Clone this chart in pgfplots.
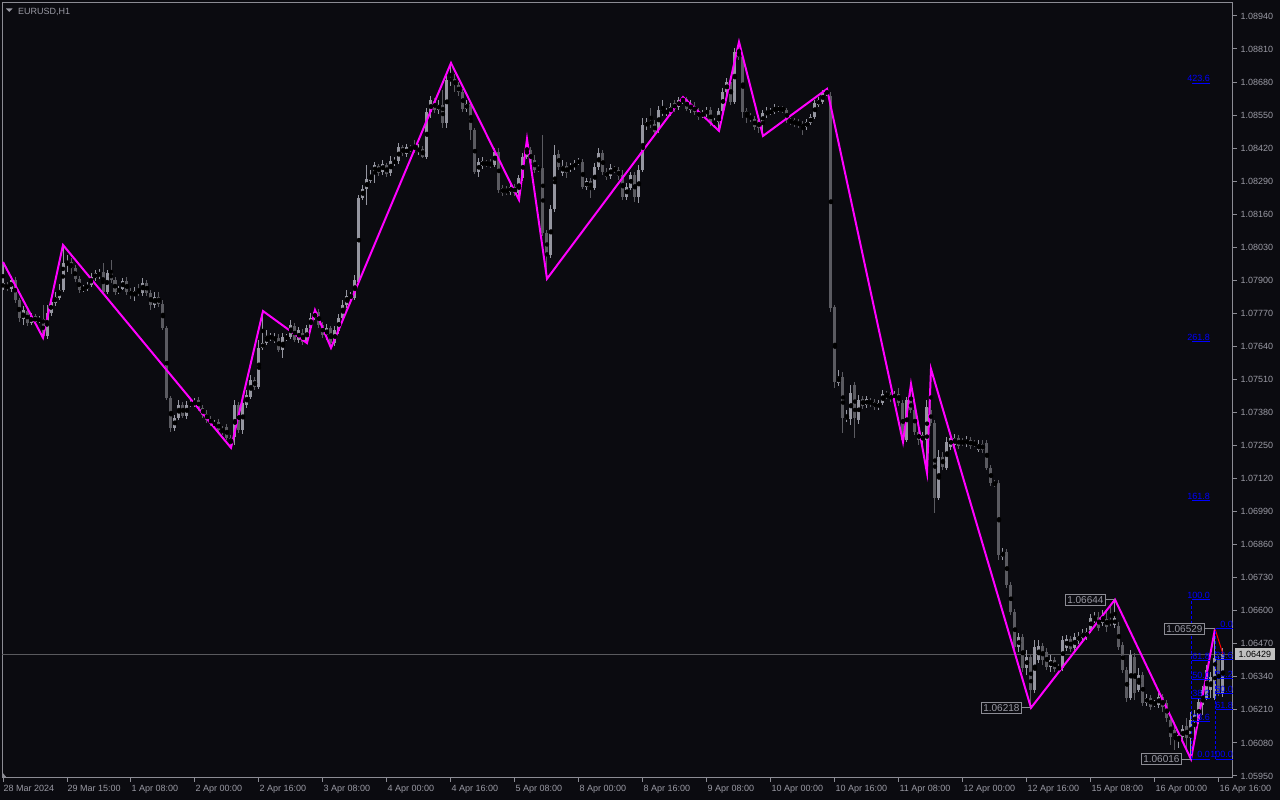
\documentclass[border=0pt]{standalone}
\usepackage{fontspec}
\setmainfont{Liberation Sans}
\usepackage{pgfplots}
\usepackage{pgfplotstable}
\pgfplotsset{compat=1.18}

\definecolor{chartbg}{HTML}{0B0B10}
\definecolor{framegray}{HTML}{8C8C94}
\definecolor{labelgray}{HTML}{9A9AA4}
\definecolor{bullgray}{HTML}{9596A0}
\definecolor{beargray}{HTML}{5B5B61}
\definecolor{zigzag}{HTML}{FF00FF}
\definecolor{fibblue}{HTML}{0000FF}
\definecolor{bidgray}{HTML}{5A5A5E}
\definecolor{bidfill}{HTML}{C0C0C0}

\newcommand{\tickfont}{\fontsize{9}{10}\selectfont}
\newcommand{\boxfont}{\fontsize{10}{11}\selectfont}

% EURUSD H1 bars: index, open, high, low, close
\pgfplotstableread{
i o h l c
0 1.07873 1.07972 1.07862 1.07889
1 1.07881 1.07893 1.07858 1.07870
2 1.07866 1.07917 1.07854 1.07901
3 1.07901 1.07913 1.07811 1.07823
4 1.07823 1.07831 1.07736 1.07752
5 1.07748 1.07799 1.07724 1.07783
6 1.07779 1.07792 1.07720 1.07732
7 1.07732 1.07771 1.07724 1.07759
8 1.07759 1.07767 1.07728 1.07736
9 1.07740 1.07759 1.07732 1.07748
10 1.07748 1.07803 1.07674 1.07681
11 1.07681 1.07803 1.07670 1.07771
12 1.07771 1.07831 1.07759 1.07815
13 1.07811 1.07854 1.07799 1.07834
14 1.07831 1.07885 1.07823 1.07862
15 1.07862 1.08039 1.07854 1.07968
16 1.07968 1.07999 1.07933 1.07972
17 1.07972 1.07988 1.07925 1.07949
18 1.07949 1.07960 1.07893 1.07906
19 1.07906 1.07917 1.07850 1.07862
20 1.07866 1.07881 1.07854 1.07870
21 1.07866 1.07893 1.07858 1.07881
22 1.07881 1.07929 1.07873 1.07913
23 1.07909 1.07941 1.07897 1.07929
24 1.07917 1.07945 1.07906 1.07929
25 1.07933 1.07968 1.07842 1.07854
26 1.07854 1.07941 1.07846 1.07929
27 1.07933 1.07980 1.07889 1.07901
28 1.07901 1.07913 1.07842 1.07854
29 1.07854 1.07877 1.07846 1.07866
30 1.07866 1.07909 1.07862 1.07897
31 1.07897 1.07913 1.07842 1.07854
32 1.07858 1.07870 1.07827 1.07846
33 1.07842 1.07873 1.07819 1.07858
34 1.07862 1.07885 1.07838 1.07850
35 1.07850 1.07909 1.07838 1.07889
36 1.07889 1.07901 1.07838 1.07850
37 1.07850 1.07862 1.07783 1.07803
38 1.07803 1.07854 1.07792 1.07834
39 1.07834 1.07854 1.07795 1.07807
40 1.07807 1.07823 1.07705 1.07713
41 1.07713 1.07720 1.07429 1.07438
42 1.07438 1.07445 1.07303 1.07320
43 1.07320 1.07370 1.07307 1.07359
44 1.07359 1.07429 1.07351 1.07409
45 1.07409 1.07421 1.07359 1.07366
46 1.07366 1.07425 1.07355 1.07409
47 1.07409 1.07429 1.07401 1.07417
48 1.07413 1.07438 1.07405 1.07421
49 1.07429 1.07441 1.07386 1.07398
50 1.07398 1.07409 1.07359 1.07370
51 1.07374 1.07390 1.07339 1.07351
52 1.07351 1.07366 1.07327 1.07343
53 1.07331 1.07351 1.07320 1.07339
54 1.07343 1.07355 1.07299 1.07311
55 1.07311 1.07327 1.07291 1.07307
56 1.07323 1.07335 1.07272 1.07280
57 1.07280 1.07291 1.07241 1.07260
58 1.07284 1.07429 1.07252 1.07409
59 1.07409 1.07421 1.07299 1.07311
60 1.07311 1.07429 1.07295 1.07417
61 1.07409 1.07469 1.07398 1.07449
62 1.07441 1.07527 1.07434 1.07508
63 1.07508 1.07520 1.07469 1.07480
64 1.07480 1.07665 1.07473 1.07634
65 1.07634 1.07779 1.07626 1.07653
66 1.07653 1.07705 1.07645 1.07681
67 1.07674 1.07693 1.07661 1.07677
68 1.07661 1.07693 1.07653 1.07677
69 1.07674 1.07689 1.07618 1.07626
70 1.07626 1.07693 1.07594 1.07677
71 1.07674 1.07689 1.07661 1.07677
72 1.07677 1.07744 1.07670 1.07724
73 1.07720 1.07732 1.07657 1.07665
74 1.07665 1.07716 1.07653 1.07705
75 1.07693 1.07709 1.07645 1.07657
76 1.07657 1.07724 1.07653 1.07713
77 1.07713 1.07771 1.07705 1.07752
78 1.07752 1.07783 1.07744 1.07775
79 1.07775 1.07787 1.07713 1.07724
80 1.07724 1.07736 1.07674 1.07685
81 1.07685 1.07728 1.07665 1.07713
82 1.07713 1.07720 1.07634 1.07653
83 1.07653 1.07720 1.07642 1.07705
84 1.07701 1.07767 1.07689 1.07752
85 1.07752 1.07823 1.07744 1.07803
86 1.07803 1.07862 1.07792 1.07838
87 1.07834 1.07854 1.07823 1.07838
88 1.07831 1.07921 1.07823 1.07901
89 1.07893 1.08236 1.07881 1.08224
90 1.08224 1.08275 1.08216 1.08259
91 1.08259 1.08354 1.08196 1.08299
92 1.08291 1.08334 1.08283 1.08315
93 1.08326 1.08365 1.08283 1.08354
94 1.08350 1.08358 1.08311 1.08322
95 1.08326 1.08373 1.08315 1.08358
96 1.08354 1.08361 1.08307 1.08318
97 1.08322 1.08389 1.08311 1.08369
98 1.08361 1.08385 1.08350 1.08373
99 1.08369 1.08440 1.08358 1.08424
100 1.08424 1.08432 1.08389 1.08401
101 1.08397 1.08436 1.08385 1.08424
102 1.08420 1.08432 1.08405 1.08417
103 1.08432 1.08452 1.08401 1.08413
104 1.08405 1.08436 1.08393 1.08420
105 1.08417 1.08428 1.08381 1.08385
106 1.08385 1.08578 1.08377 1.08562
107 1.08562 1.08625 1.08539 1.08610
108 1.08606 1.08618 1.08558 1.08570
109 1.08570 1.08610 1.08554 1.08590
110 1.08590 1.08649 1.08500 1.08519
111 1.08519 1.08704 1.08500 1.08688
112 1.08688 1.08755 1.08664 1.08692
113 1.08692 1.08712 1.08641 1.08668
114 1.08668 1.08680 1.08625 1.08641
115 1.08641 1.08653 1.08562 1.08574
116 1.08574 1.08610 1.08562 1.08594
117 1.08594 1.08602 1.08452 1.08492
118 1.08492 1.08500 1.08318 1.08326
119 1.08326 1.08381 1.08307 1.08365
120 1.08350 1.08385 1.08338 1.08369
121 1.08361 1.08373 1.08346 1.08358
122 1.08358 1.08377 1.08342 1.08354
123 1.08354 1.08420 1.08346 1.08405
124 1.08405 1.08420 1.08244 1.08255
125 1.08263 1.08275 1.08232 1.08244
126 1.08259 1.08271 1.08236 1.08244
127 1.08247 1.08283 1.08236 1.08267
128 1.08267 1.08279 1.08232 1.08244
129 1.08244 1.08315 1.08216 1.08303
130 1.08303 1.08401 1.08291 1.08385
131 1.08385 1.08456 1.08377 1.08424
132 1.08413 1.08424 1.08354 1.08361
133 1.08373 1.08393 1.08322 1.08334
134 1.08342 1.08354 1.08326 1.08338
135 1.08342 1.08472 1.08074 1.08086
136 1.08086 1.08098 1.07906 1.07999
137 1.07999 1.08196 1.07988 1.08181
138 1.08181 1.08432 1.08169 1.08393
139 1.08397 1.08413 1.08334 1.08346
140 1.08322 1.08373 1.08311 1.08350
141 1.08350 1.08365 1.08303 1.08322
142 1.08338 1.08361 1.08326 1.08350
143 1.08346 1.08373 1.08334 1.08361
144 1.08365 1.08381 1.08354 1.08369
145 1.08365 1.08377 1.08259 1.08267
146 1.08267 1.08303 1.08255 1.08291
147 1.08291 1.08303 1.08224 1.08263
148 1.08263 1.08361 1.08255 1.08346
149 1.08346 1.08420 1.08334 1.08401
150 1.08401 1.08413 1.08315 1.08326
151 1.08326 1.08342 1.08295 1.08307
152 1.08311 1.08358 1.08299 1.08342
153 1.08338 1.08350 1.08322 1.08334
154 1.08334 1.08346 1.08295 1.08311
155 1.08315 1.08334 1.08216 1.08228
156 1.08228 1.08283 1.08216 1.08267
157 1.08263 1.08326 1.08255 1.08315
158 1.08315 1.08326 1.08208 1.08228
159 1.08228 1.08354 1.08204 1.08334
160 1.08334 1.08539 1.08326 1.08511
161 1.08507 1.08539 1.08492 1.08523
162 1.08527 1.08578 1.08500 1.08515
163 1.08515 1.08531 1.08472 1.08484
164 1.08492 1.08586 1.08480 1.08570
165 1.08558 1.08610 1.08547 1.08570
166 1.08562 1.08578 1.08547 1.08566
167 1.08558 1.08598 1.08547 1.08582
168 1.08598 1.08610 1.08562 1.08574
169 1.08582 1.08621 1.08570 1.08610
170 1.08606 1.08621 1.08594 1.08618
171 1.08614 1.08621 1.08566 1.08574
172 1.08570 1.08610 1.08558 1.08590
173 1.08586 1.08602 1.08551 1.08562
174 1.08562 1.08578 1.08531 1.08543
175 1.08551 1.08570 1.08539 1.08554
176 1.08554 1.08582 1.08543 1.08570
177 1.08570 1.08582 1.08507 1.08519
178 1.08519 1.08539 1.08503 1.08523
179 1.08523 1.08578 1.08488 1.08566
180 1.08566 1.08657 1.08554 1.08641
181 1.08641 1.08696 1.08629 1.08680
182 1.08680 1.08696 1.08590 1.08602
183 1.08602 1.08814 1.08594 1.08798
184 1.08798 1.08838 1.08767 1.08779
185 1.08779 1.08787 1.08539 1.08562
186 1.08566 1.08578 1.08519 1.08547
187 1.08547 1.08558 1.08523 1.08535
188 1.08535 1.08547 1.08492 1.08503
189 1.08531 1.08543 1.08480 1.08500
190 1.08519 1.08570 1.08468 1.08558
191 1.08551 1.08582 1.08539 1.08566
192 1.08558 1.08578 1.08551 1.08566
193 1.08562 1.08594 1.08554 1.08578
194 1.08570 1.08586 1.08562 1.08578
195 1.08578 1.08586 1.08558 1.08570
196 1.08570 1.08578 1.08519 1.08531
197 1.08531 1.08539 1.08511 1.08523
198 1.08531 1.08539 1.08503 1.08515
199 1.08523 1.08535 1.08500 1.08511
200 1.08515 1.08527 1.08472 1.08503
201 1.08503 1.08535 1.08492 1.08523
202 1.08519 1.08554 1.08511 1.08543
203 1.08543 1.08610 1.08535 1.08598
204 1.08590 1.08621 1.08582 1.08610
205 1.08602 1.08649 1.08594 1.08637
206 1.08637 1.08653 1.08625 1.08645
207 1.08629 1.08641 1.07775 1.07795
208 1.07795 1.07803 1.07477 1.07500
209 1.07496 1.07547 1.07484 1.07520
210 1.07520 1.07539 1.07299 1.07359
211 1.07359 1.07390 1.07343 1.07362
212 1.07355 1.07488 1.07331 1.07457
213 1.07488 1.07500 1.07280 1.07359
214 1.07351 1.07449 1.07335 1.07429
215 1.07434 1.07445 1.07394 1.07405
216 1.07409 1.07445 1.07398 1.07434
217 1.07421 1.07438 1.07405 1.07417
218 1.07421 1.07434 1.07390 1.07401
219 1.07401 1.07429 1.07390 1.07417
220 1.07417 1.07469 1.07409 1.07453
221 1.07449 1.07465 1.07434 1.07445
222 1.07449 1.07461 1.07421 1.07434
223 1.07438 1.07465 1.07425 1.07453
224 1.07453 1.07477 1.07405 1.07417
225 1.07417 1.07429 1.07264 1.07272
226 1.07272 1.07441 1.07264 1.07429
227 1.07429 1.07492 1.07378 1.07390
228 1.07390 1.07401 1.07291 1.07303
229 1.07303 1.07320 1.07252 1.07272
230 1.07272 1.07303 1.07256 1.07291
231 1.07272 1.07429 1.07142 1.07401
232 1.07390 1.07551 1.07327 1.07339
233 1.07339 1.07351 1.06985 1.07044
234 1.07044 1.07233 1.07036 1.07205
235 1.07205 1.07225 1.07154 1.07166
236 1.07162 1.07284 1.07154 1.07264
237 1.07245 1.07295 1.07233 1.07280
238 1.07252 1.07295 1.07245 1.07280
239 1.07280 1.07291 1.07237 1.07248
240 1.07264 1.07280 1.07248 1.07260
241 1.07256 1.07288 1.07245 1.07272
242 1.07272 1.07284 1.07237 1.07248
243 1.07260 1.07272 1.07245 1.07256
244 1.07233 1.07272 1.07225 1.07256
245 1.07256 1.07272 1.07221 1.07233
246 1.07260 1.07272 1.07154 1.07162
247 1.07162 1.07174 1.07091 1.07103
248 1.07103 1.07115 1.07087 1.07099
249 1.07103 1.07115 1.06800 1.06819
250 1.06811 1.06848 1.06800 1.06831
251 1.06831 1.06844 1.06690 1.06701
252 1.06701 1.06713 1.06583 1.06595
253 1.06595 1.06608 1.06446 1.06457
254 1.06457 1.06513 1.06438 1.06497
255 1.06497 1.06509 1.06359 1.06376
256 1.06376 1.06446 1.06347 1.06418
257 1.06418 1.06430 1.06218 1.06289
258 1.06289 1.06485 1.06277 1.06457
259 1.06407 1.06485 1.06395 1.06461
260 1.06461 1.06473 1.06387 1.06407
261 1.06438 1.06454 1.06367 1.06379
262 1.06379 1.06426 1.06359 1.06407
263 1.06407 1.06418 1.06359 1.06372
264 1.06376 1.06391 1.06359 1.06372
265 1.06376 1.06501 1.06363 1.06485
266 1.06454 1.06505 1.06442 1.06490
267 1.06490 1.06501 1.06438 1.06450
268 1.06454 1.06513 1.06442 1.06497
269 1.06481 1.06517 1.06469 1.06501
270 1.06493 1.06529 1.06481 1.06513
271 1.06497 1.06533 1.06485 1.06517
272 1.06525 1.06587 1.06513 1.06572
273 1.06564 1.06595 1.06552 1.06572
274 1.06575 1.06595 1.06521 1.06533
275 1.06552 1.06603 1.06540 1.06575
276 1.06568 1.06595 1.06517 1.06537
277 1.06564 1.06623 1.06540 1.06552
278 1.06544 1.06644 1.06533 1.06572
279 1.06540 1.06556 1.06446 1.06457
280 1.06465 1.06477 1.06355 1.06367
281 1.06367 1.06379 1.06241 1.06258
282 1.06258 1.06446 1.06249 1.06426
283 1.06418 1.06434 1.06249 1.06277
284 1.06289 1.06376 1.06281 1.06347
285 1.06347 1.06359 1.06225 1.06237
286 1.06237 1.06273 1.06225 1.06258
287 1.06258 1.06269 1.06210 1.06221
288 1.06233 1.06249 1.06221 1.06237
289 1.06229 1.06277 1.06218 1.06261
290 1.06261 1.06273 1.06202 1.06221
291 1.06237 1.06249 1.06162 1.06179
292 1.06170 1.06182 1.06072 1.06103
293 1.06131 1.06146 1.06052 1.06092
294 1.06092 1.06127 1.06060 1.06111
295 1.06103 1.06150 1.06084 1.06135
296 1.06150 1.06178 1.06060 1.06099
297 1.06099 1.06202 1.06016 1.06170
298 1.06162 1.06210 1.06092 1.06190
299 1.06170 1.06257 1.06154 1.06241
300 1.06229 1.06304 1.06190 1.06289
301 1.06258 1.06387 1.06249 1.06367
302 1.06289 1.06359 1.06258 1.06340
303 1.06258 1.06529 1.06249 1.06415
304 1.06407 1.06422 1.06265 1.06277
305 1.06277 1.06454 1.06261 1.06429
}\candles

\pgfplotsset{
  candle/.style 2 args={only marks, mark=none, forget plot,
    error bars/y dir=both, error bars/y explicit, error bars/error mark=none,
    error bars/error bar style={draw=#1, line width=#2}},
}
% fibo level: x from, x to, price, label
\newcommand{\fiblevel}[4]{%
  \draw[fibblue, line width=1pt] (axis cs:#1,#3) -- (axis cs:#2,#3);
  \node[anchor=south east, inner sep=0pt, yshift=1pt, text=fibblue, font=\tickfont] at (axis cs:#2,#3) {#4};}
% price box at a zigzag pivot: box right x, pivot x, price
\newcommand{\pivotbox}[3]{%
  \draw[framegray, line width=1pt] (axis cs:#1,#3) -- (axis cs:#2,#3);
  \node[anchor=east, draw=framegray, line width=1pt, fill=chartbg, text=labelgray, font=\boxfont,
    inner xsep=2pt, inner ysep=2pt, text height=7pt, text depth=0pt] at (axis cs:#1,#3) {#3};}

\begin{document}
\begin{tikzpicture}[x=1pt,y=1pt]
\fill[chartbg] (-3000,-3000) rectangle (3000,3000);
\begin{axis}[
  scale only axis, width=1231pt, height=775pt,
  xmin=-0.25, xmax=307.5, ymin=1.05942, ymax=1.08991,
  clip=false,
  axis line style={draw=framegray, line width=1pt},
  tick align=outside, major tick length=4pt,
  tick style={draw=framegray, line width=1pt},
  xtick pos=left, ytick pos=right, yticklabel pos=right,
  xtick={0,16,32,48,64,80,96,112,128,144,160,176,192,208,224,240,256,272,288,304},
  xticklabels={28 Mar 2024, 29 Mar 15:00, 1 Apr 08:00, 2 Apr 00:00, 2 Apr 16:00,
    3 Apr 08:00, 4 Apr 00:00, 4 Apr 16:00, 5 Apr 08:00, 8 Apr 00:00,
    8 Apr 16:00, 9 Apr 08:00, 10 Apr 00:00, 10 Apr 16:00, 11 Apr 08:00,
    12 Apr 00:00, 12 Apr 16:00, 15 Apr 08:00, 16 Apr 00:00, 16 Apr 16:00},
  xticklabel style={anchor=north west, xshift=-3pt, font=\tickfont, text=labelgray},
  ytick={1.0595,1.0608,1.0621,1.0634,1.0647,1.0660,1.0673,1.0686,1.0699,1.0712,1.0725,1.0738,
    1.0751,1.0764,1.0777,1.0790,1.0803,1.0816,1.0829,1.0842,1.0855,1.0868,1.0881,1.0894},
  yticklabels={1.05950,1.06080,1.06210,1.06340,1.06470,1.06600,1.06730,1.06860,1.06990,1.07120,
    1.07250,1.07380,1.07510,1.07640,1.07770,1.07900,1.08030,1.08160,1.08290,1.08420,1.08550,
    1.08680,1.08810,1.08940},
  yticklabel style={anchor=west, font=\tickfont, text=labelgray},
]
% bid line
\addplot[bidgray, line width=1pt, forget plot] coordinates {(-0.25,1.06429) (307.5,1.06429)};

% wicks
\addplot[restrict expr to domain={\thisrow{c}-\thisrow{o}}{-1:0}, candle={beargray}{1pt}]
  table[x=i, y expr={(\thisrow{h}+\thisrow{l})/2}, y error expr={(\thisrow{h}-\thisrow{l})/2}] {\candles};
\addplot[restrict expr to domain={\thisrow{c}-\thisrow{o}}{0:1}, candle={bullgray}{1pt}]
  table[x=i, y expr={(\thisrow{h}+\thisrow{l})/2}, y error expr={(\thisrow{h}-\thisrow{l})/2}] {\candles};
% bodies
\addplot[restrict expr to domain={\thisrow{c}-\thisrow{o}}{-1:0}, candle={beargray}{3pt}]
  table[x=i, y expr={(\thisrow{o}+\thisrow{c})/2}, y error expr={max(abs(\thisrow{c}-\thisrow{o})/2,0.000013)}] {\candles};
\addplot[restrict expr to domain={\thisrow{c}-\thisrow{o}}{0:1}, candle={bullgray}{3pt}]
  table[x=i, y expr={(\thisrow{o}+\thisrow{c})/2}, y error expr={max(abs(\thisrow{c}-\thisrow{o})/2,0.000013)}] {\candles};

% zigzag
\addplot[zigzag, line width=2pt, line join=miter, forget plot] coordinates {
  (0,1.07972) (10,1.07674) (15,1.08039) (57,1.07241) (65,1.07779) (76,1.07653)
  (78,1.07783) (82,1.07634) (112,1.08755) (129,1.08216) (131,1.08456) (136,1.07906)
  (170,1.08621) (179,1.08488) (184,1.08838) (190,1.08468) (206,1.08653) (225,1.07264)
  (227,1.07492) (231,1.07142) (232,1.07551) (257,1.06218) (278,1.06644) (297,1.06016)
  (303,1.06529)};
\addplot[red, line width=1pt, forget plot] coordinates {(303,1.06529) (305,1.06429)};

% fibonacci 1.06644 -> 1.06016
\draw[fibblue, line width=1pt, dash pattern=on 3pt off 2pt] (axis cs:297.25,1.06016) -- (axis cs:297.25,1.06644);
\fiblevel{297.25}{301.75}{1.06016}{0.0}
\fiblevel{297.25}{301.75}{1.06164}{23.6}
\fiblevel{297.25}{301.75}{1.06256}{38.2}
\fiblevel{297.25}{301.75}{1.06330}{50.0}
\fiblevel{297.25}{301.75}{1.06404}{61.8}
\fiblevel{297.25}{301.75}{1.06644}{100.0}
\fiblevel{297.25}{301.75}{1.07032}{161.8}
\fiblevel{297.25}{301.75}{1.07660}{261.8}
\fiblevel{297.25}{301.75}{1.08676}{423.6}
% fibonacci 1.06016 -> 1.06529
\draw[fibblue, line width=1pt, dash pattern=on 3pt off 2pt] (axis cs:303.2,1.06016) -- (axis cs:303.2,1.06529);
\fiblevel{303.2}{307.5}{1.06529}{0.0}
\fiblevel{303.2}{307.5}{1.06408}{23.6}
\fiblevel{303.2}{307.5}{1.06333}{38.2}
\fiblevel{303.2}{307.5}{1.06273}{50.0}
\fiblevel{303.2}{307.5}{1.06212}{61.8}
\fiblevel{303.2}{307.5}{1.06016}{100.0}

% pivot price boxes
\pivotbox{275.75}{278}{1.06644}
\pivotbox{254.75}{257}{1.06218}
\pivotbox{294.75}{297}{1.06016}
\pivotbox{300.5}{303}{1.06529}

% bid price box
\node[anchor=west, xshift=2pt, fill=bidfill, text=black, font=\tickfont, inner xsep=3.5pt,
  inner ysep=2.5pt, text height=6.5pt, text depth=0pt] at (axis cs:307.5,1.06429) {1.06429};
\coordinate (sw) at (axis cs:-0.25,1.05942);
\end{axis}
\fill[labelgray] ([shift={(4,769.5)}]sw) -- ([shift={(10.5,769.5)}]sw) -- ([shift={(7.25,766)}]sw) -- cycle;
\node[anchor=base west, inner sep=0pt, text=labelgray, font=\tickfont] at ([shift={(16,763)}]sw) {EURUSD,H1};
\fill[framegray] (sw) -- ([shift={(0,6)}]sw) -- ([shift={(5,0)}]sw) -- cycle;
\pgfresetboundingbox
\useasboundingbox ([shift={(-2,-22)}]sw) rectangle ([shift={(1278,778)}]sw);
\end{tikzpicture}
\end{document}
